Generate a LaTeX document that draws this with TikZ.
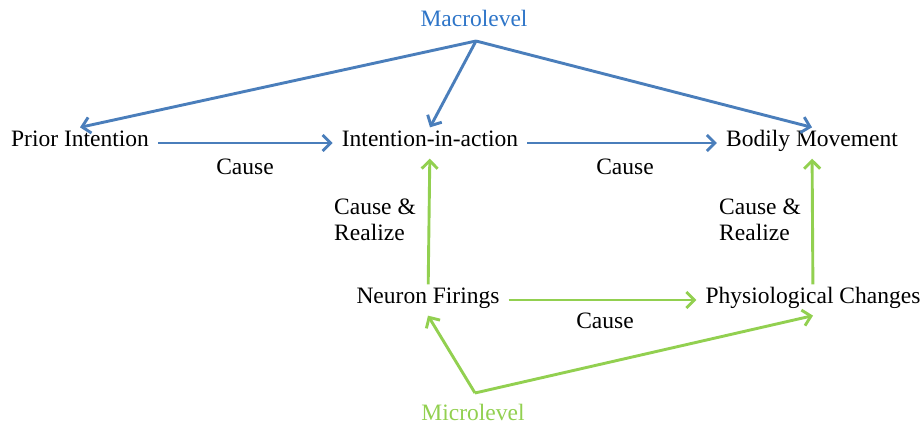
\documentclass[tikz,border=0pt]{standalone}
\usepackage{fontspec}
\setmainfont{Liberation Serif}
\usetikzlibrary{arrows.meta}
\definecolor{macroblue}{RGB}{74,126,187}
\definecolor{macrotext}{RGB}{46,117,200}
\definecolor{microgreen}{RGB}{146,208,80}

\begin{document}
\begin{tikzpicture}[x=1pt,y=1pt,
  level/.style={font=\fontsize{23.5}{26}\selectfont, text height=1.5ex, text depth=0pt,
    inner xsep=9pt, inner ysep=12pt},
  lbl/.style={font=\fontsize{23.5}{26}\selectfont, inner sep=0pt},
  macroarr/.style={draw=macroblue, line width=2.9pt, -{Straight Barb[length=8pt,width=16pt]}},
  microarr/.style={draw=microgreen, line width=2.9pt, -{Straight Barb[length=8pt,width=16pt]}}]
  \useasboundingbox (0,0) rectangle (924,426);
  \node [lbl, text=macrotext] (macro) at (474,408) {Macrolevel};
  \coordinate (top) at (476,385);
  \node [level] (pi) at (80,283) {Prior Intention};
  \node [level] (iia) at (430,283) {Intention-in-action};
  \node [level] (bm) at (812,283) {Bodily Movement};
  \node [level] (nf) at (428,126) {Neuron Firings};
  \node [level] (pc) at (813,126) {Physiological Changes};
  \coordinate (bottom) at (475,33);
  \node [lbl, text=microgreen] (micro) at (473,14) {Microlevel};
  \draw [macroarr] (top) -- (pi.north);
  \draw [macroarr] (top) -- (iia.north);
  \draw [macroarr] (top) -- (bm.north);
  \draw [macroarr] (pi) -- (iia);
  \draw [macroarr] (iia) -- (bm);
  \node [lbl] (c1) at (245,259) {Cause};
  \node [lbl] (c2) at (625,259) {Cause};
  \draw [microarr] (nf) -- (iia);
  \draw [microarr] (pc) -- (bm);
  \node [lbl, align=left] (cr1) at (375,206) {Cause \&\\Realize};
  \node [lbl, align=left] (cr2) at (760,206) {Cause \&\\Realize};
  \draw [microarr] (nf) -- (pc);
  \node [lbl] (c3) at (605,105) {Cause};
  \draw [microarr] (bottom) -- (nf.south);
  \draw [microarr] (bottom) -- (pc.south);
\end{tikzpicture}
\end{document}
